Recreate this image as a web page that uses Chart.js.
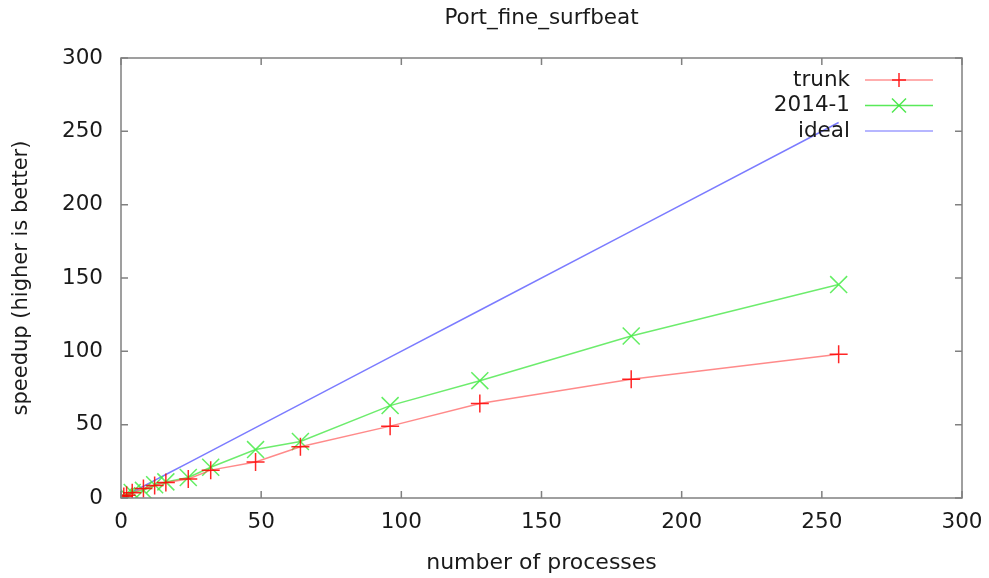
<!DOCTYPE html>
<html>
<head>
<meta charset="utf-8">
<script src="https://cdn.jsdelivr.net/npm/chart.js@4.4.1/dist/chart.umd.min.js"></script>
<style>
  html, body { margin: 0; padding: 0; background: #fff; }
  #wrap { width: 989px; height: 578px; }
</style>
</head>
<body>
<div id="wrap"><canvas id="speedup-chart"></canvas></div>
<script>
const processes = [1, 2, 4, 8, 12, 16, 24, 32, 48, 64, 96, 128, 182, 256];
const trunkSpeedup = [1, 1.9, 3.5, 6.5, 8.5, 10.5, 13, 19, 24.5, 35, 49, 64.5, 81, 98];
const release2014Speedup = [1, 1.6, 3.8, 5.2, 9, 11, 14, 21, 33, 38.5, 63, 80, 110.5, 145.5];
const idealSpeedup = [1, 2, 4, 8, 12, 16, 24, 32, 48, 64, 96, 128, 182, 256];

const axisTicks = [0, 50, 100, 150, 200, 250, 300];

const FONT = 'DejaVu Sans';
const TEXT_COLOR = '#1a1a1a';
const BORDER_COLOR = '#808080';
const TITLE = 'Port_fine_surfbeat';

function toPoints(xs, ys) {
    return xs.map((x, i) => ({ x: x, y: ys[i] }));
}

// Legend entries: label, line colour, marker style
const legendItems = [
    { label: 'trunk', line: 'rgba(255,120,120,0.8)', marker: 'cross', markerColor: 'rgba(255,0,0,0.85)', r: 7 },
    { label: '2014-1', line: 'rgba(60,230,60,0.85)', marker: 'crossRot', markerColor: 'rgba(60,230,60,0.9)', r: 7 },
    { label: 'ideal', line: 'rgba(140,140,255,0.85)', marker: null }
];

/**
 * Box border with inward ticks on all four sides, gnuplot style
 */
const frameAndTicks = {
    id: 'frameAndTicks',
    afterDraw(chart) {
        const { ctx, chartArea: a, scales } = chart;
        const len = 7;
        ctx.save();
        ctx.strokeStyle = BORDER_COLOR;
        ctx.lineWidth = 1.5;
        ctx.strokeRect(a.left, a.top, a.right - a.left, a.bottom - a.top);
        ctx.beginPath();
        axisTicks.forEach(v => {
            const px = scales.x.getPixelForValue(v);
            ctx.moveTo(px, a.bottom); ctx.lineTo(px, a.bottom - len);
            ctx.moveTo(px, a.top); ctx.lineTo(px, a.top + len);
            const py = scales.y.getPixelForValue(v);
            ctx.moveTo(a.left, py); ctx.lineTo(a.left + len, py);
            ctx.moveTo(a.right, py); ctx.lineTo(a.right - len, py);
        });
        ctx.stroke();
        ctx.restore();
    }
};

/**
 * Title centred over the plot area rather than the whole canvas
 */
const plotTitle = {
    id: 'plotTitle',
    afterDraw(chart) {
        const { ctx, chartArea: a } = chart;
        ctx.save();
        ctx.font = '21.5px "' + FONT + '"';
        ctx.fillStyle = TEXT_COLOR;
        ctx.textAlign = 'center';
        ctx.textBaseline = 'middle';
        ctx.fillText(TITLE, (a.left + a.right) / 2, 18);
        ctx.restore();
    }
};

/**
 * Key in the top right corner: right-aligned labels followed by a line sample
 */
const keyBox = {
    id: 'keyBox',
    afterDraw(chart) {
        const { ctx, chartArea: a } = chart;
        const textRight = a.right - 112;
        const sampleStart = a.right - 97;
        const sampleEnd = a.right - 29;
        const rowTop = a.top + 22;
        const rowGap = 25.5;
        ctx.save();
        ctx.font = '21.5px "' + FONT + '"';
        ctx.textAlign = 'right';
        ctx.textBaseline = 'middle';
        legendItems.forEach((item, i) => {
            const y = rowTop + i * rowGap;
            ctx.fillStyle = TEXT_COLOR;
            ctx.fillText(item.label, textRight, y);
            ctx.strokeStyle = item.line;
            ctx.lineWidth = 1.5;
            ctx.beginPath();
            ctx.moveTo(sampleStart, y);
            ctx.lineTo(sampleEnd, y);
            ctx.stroke();
            if (item.marker) {
                const cx = (sampleStart + sampleEnd) / 2;
                ctx.strokeStyle = item.markerColor;
                ctx.beginPath();
                if (item.marker === 'cross') {
                    ctx.moveTo(cx, y - item.r); ctx.lineTo(cx, y + item.r);
                    ctx.moveTo(cx - item.r, y); ctx.lineTo(cx + item.r, y);
                } else {
                    const d = item.r;
                    ctx.moveTo(cx - d, y - d); ctx.lineTo(cx + d, y + d);
                    ctx.moveTo(cx - d, y + d); ctx.lineTo(cx + d, y - d);
                }
                ctx.stroke();
            }
        });
        ctx.restore();
    }
};

const ctx = document.getElementById('speedup-chart').getContext('2d');

new Chart(ctx, {
    type: 'scatter',
    data: {
        datasets: [
            {
                label: 'trunk',
                data: toPoints(processes, trunkSpeedup),
                showLine: true,
                borderColor: 'rgba(255,60,60,0.6)',
                borderWidth: 1.5,
                pointStyle: 'cross',
                pointRadius: 9,
                pointBorderWidth: 1.5,
                pointBorderColor: 'rgba(255,0,0,0.85)',
                pointBackgroundColor: 'rgba(255,0,0,0.85)'
            },
            {
                label: '2014-1',
                data: toPoints(processes, release2014Speedup),
                showLine: true,
                borderColor: 'rgba(60,230,60,0.75)',
                borderWidth: 1.5,
                pointStyle: 'crossRot',
                pointRadius: 12,
                pointBorderWidth: 1.5,
                pointBorderColor: 'rgba(70,235,70,0.85)',
                pointBackgroundColor: 'rgba(70,235,70,0.85)'
            },
            {
                label: 'ideal',
                data: toPoints(processes, idealSpeedup),
                showLine: true,
                borderColor: 'rgba(90,90,255,0.8)',
                borderWidth: 1.5,
                pointRadius: 0
            }
        ]
    },
    options: {
        responsive: true,
        maintainAspectRatio: false,
        animation: false,
        layout: { padding: { top: 58, right: 27, bottom: 0, left: 0 } },
        plugins: {
            legend: { display: false },
            tooltip: { enabled: false },
            title: { display: false }
        },
        scales: {
            x: {
                type: 'linear',
                min: 0,
                max: 300,
                grid: { display: false, drawTicks: false },
                border: { display: false },
                ticks: {
                    stepSize: 50,
                    padding: 12,
                    color: TEXT_COLOR,
                    font: { family: FONT, size: 21.5 },
                    maxRotation: 0
                },
                title: {
                    display: true,
                    text: 'number of processes',
                    color: TEXT_COLOR,
                    font: { family: FONT, size: 22 },
                    padding: { top: 0, bottom: 2 }
                },
                afterFit(scale) {
                    scale.height = 80;
                    scale.paddingRight = 0;
                    scale.paddingLeft = 0;
                }
            },
            y: {
                type: 'linear',
                min: 0,
                max: 300,
                grid: { display: false, drawTicks: false },
                border: { display: false },
                ticks: {
                    stepSize: 50,
                    padding: 18,
                    color: TEXT_COLOR,
                    font: { family: FONT, size: 21.5 }
                },
                title: {
                    display: true,
                    text: 'speedup (higher is better)',
                    color: TEXT_COLOR,
                    font: { family: FONT, size: 21 },
                    padding: { top: 9, bottom: 0 }
                },
                afterFit(scale) {
                    scale.width = 121;
                    scale.paddingTop = 0;
                    scale.paddingBottom = 0;
                }
            }
        }
    },
    plugins: [frameAndTicks, plotTitle, keyBox]
});
</script>
</body>
</html>
